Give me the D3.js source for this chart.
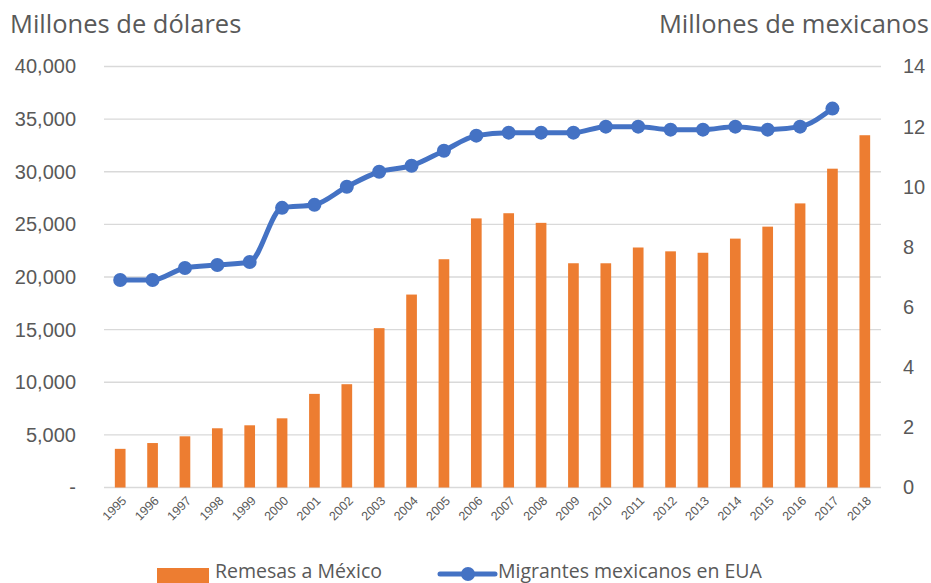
<!DOCTYPE html>
<html>
<head>
<meta charset="utf-8">
<script src="https://cdnjs.cloudflare.com/ajax/libs/d3/7.8.5/d3.min.js"></script>
<style>
  body { margin: 0; background: #fff; }
  svg { display: block; font-family: "Open Sans", "Noto Sans", sans-serif; }
  .tick text { fill: #595959; }
</style>
</head>
<body>
<script>
// Data
var years = ["1995","1996","1997","1998","1999","2000","2001","2002","2003","2004","2005","2006",
             "2007","2008","2009","2010","2011","2012","2013","2014","2015","2016","2017","2018"];
// Remesas a México (millones de dólares)
var remesas = [3673, 4224, 4865, 5627, 5910, 6573, 8895, 9814, 15139, 18332, 21688, 25567,
               26059, 25145, 21306, 21304, 22803, 22438, 22303, 23647, 24785, 26993, 30291, 33470];
// Migrantes mexicanos en EUA (millones) - no value for 2018
var migrantes = [6.9, 6.9, 7.3, 7.4, 7.5, 9.3, 9.4, 10.0, 10.5, 10.7, 11.2, 11.7,
                 11.8, 11.8, 11.8, 12.0, 12.0, 11.9, 11.9, 12.0, 11.9, 12.0, 12.6, null];
var leftTicks = [0, 5000, 10000, 15000, 20000, 25000, 30000, 35000, 40000];
var rightTicks = [0, 2, 4, 6, 8, 10, 12, 14];

var W = 931, H = 583;
var margin = {top: 66.5, right: 50, bottom: 95.5, left: 104};
var width = W - margin.left - margin.right,   // 777
    height = H - margin.top - margin.bottom;  // 421

var svg = d3.select("body").append("svg")
    .attr("width", W)
    .attr("height", H);

var x = d3.scaleBand().domain(years).range([0, width]).paddingInner(0.67).paddingOuter(0.335),
    xc = d3.scaleBand().domain(years).range([0, width]),
    y = d3.scaleLinear().domain([0, 40000]).range([height, 0]),
    y2 = d3.scaleLinear().domain([0, 14]).range([height, 0]);

var g = svg.append("g")
    .attr("transform", "translate(" + margin.left + "," + margin.top + ")");

// gridlines
g.selectAll(".grid")
  .data(leftTicks)
  .enter().append("line")
    .attr("x1", 0).attr("x2", width)
    .attr("y1", function(d) { return y(d); })
    .attr("y2", function(d) { return y(d); })
    .attr("stroke", "#d9d9d9")
    .attr("stroke-width", 1.3);

// left axis
var fmt = d3.format(",");
var yAxis = g.append("g")
    .call(d3.axisLeft(y).tickValues(leftTicks).tickSize(0).tickPadding(28)
      .tickFormat(function(d) { return d === 0 ? "-" : fmt(d); }));
yAxis.select(".domain").remove();
yAxis.selectAll("text").attr("font-size", 20).attr("fill", "#595959");

// right axis
var y2Axis = g.append("g")
    .attr("transform", "translate(" + width + ",0)")
    .call(d3.axisRight(y2).tickValues(rightTicks).tickSize(0).tickPadding(22));
y2Axis.select(".domain").remove();
y2Axis.selectAll("text").attr("font-size", 20).attr("fill", "#595959");

// x axis labels
var xAxis = g.append("g")
    .attr("transform", "translate(0," + height + ")")
    .call(d3.axisBottom(xc).tickSize(0).tickPadding(0));
xAxis.select(".domain").remove();
xAxis.selectAll("text")
    .attr("font-size", 12.5)
    .attr("fill", "#595959")
    .attr("text-anchor", "end")
    .attr("dy", 0)
    .attr("y", 0)
    .attr("transform", "translate(7,14) rotate(-45)");

// bars
g.selectAll(".bar")
  .data(years)
  .enter().append("rect")
    .attr("class", "bar")
    .attr("x", function(d) { return x(d); })
    .attr("y", function(d, i) { return y(remesas[i]); })
    .attr("width", x.bandwidth())
    .attr("height", function(d, i) { return height - y(remesas[i]); })
    .attr("fill", "#ED7D31");

// line
var pts = years.map(function(d, i) { return {year: d, v: migrantes[i]}; })
    .filter(function(d) { return d.v != null; });

var line = d3.line()
    .x(function(d) { return xc(d.year) + xc.bandwidth() / 2; })
    .y(function(d) { return y2(d.v); })
    .curve(d3.curveMonotoneX);

g.append("path")
    .datum(pts)
    .attr("d", line)
    .attr("fill", "none")
    .attr("stroke", "#4472C4")
    .attr("stroke-width", 5)
    .attr("stroke-linejoin", "round");

g.selectAll(".dot")
  .data(pts)
  .enter().append("circle")
    .attr("cx", function(d) { return xc(d.year) + xc.bandwidth() / 2; })
    .attr("cy", function(d) { return y2(d.v); })
    .attr("r", 7)
    .attr("fill", "#4472C4");

// axis titles
svg.append("text")
    .attr("x", 10).attr("y", 33)
    .attr("font-size", 25.5)
    .attr("fill", "#595959")
    .text("Millones de dólares");

svg.append("text")
    .attr("x", 929).attr("y", 33)
    .attr("text-anchor", "end")
    .attr("font-size", 25.5)
    .attr("fill", "#595959")
    .text("Millones de mexicanos");

// legend
var leg = svg.append("g");
leg.append("rect")
    .attr("x", 157).attr("y", 568)
    .attr("width", 52).attr("height", 15)
    .attr("fill", "#ED7D31");
leg.append("text")
    .attr("x", 215).attr("y", 578)
    .attr("font-size", 19.5)
    .attr("fill", "#595959")
    .text("Remesas a México");
leg.append("line")
    .attr("x1", 440).attr("x2", 495)
    .attr("y1", 574).attr("y2", 574)
    .attr("stroke", "#4472C4")
    .attr("stroke-width", 5)
    .attr("stroke-linecap", "round");
leg.append("circle")
    .attr("cx", 468).attr("cy", 574).attr("r", 7)
    .attr("fill", "#4472C4");
leg.append("text")
    .attr("x", 498).attr("y", 578)
    .attr("font-size", 19.5)
    .attr("fill", "#595959")
    .text("Migrantes mexicanos en EUA");
</script>
</body>
</html>
